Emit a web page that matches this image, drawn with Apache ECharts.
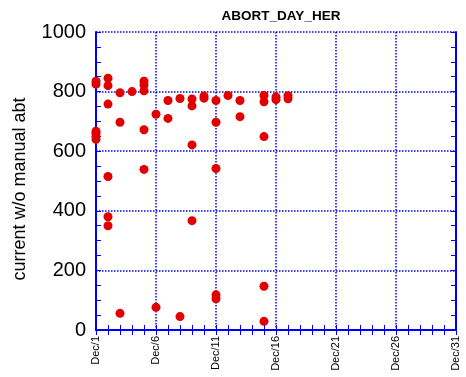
<!DOCTYPE html>
<html>
<head>
<meta charset="utf-8">
<script src="https://cdn.jsdelivr.net/npm/echarts@6/dist/echarts.min.js"></script>
<style>html,body{margin:0;padding:0;background:#fff}#c{width:466px;height:377px}</style>
</head>
<body>
<div id="c"></div>
<script>
// Day of December for each group of readings
const days = [1, 2, 3, 4, 5, 6, 7, 8, 9, 10, 11, 12, 13, 15, 16, 17];
// Readings (current w/o manual abt) per day
const values = [
  [825, 835, 640, 650, 660, 667],
  [845, 820, 758, 515, 380, 350],
  [796, 697, 56],
  [800],
  [835, 822, 803, 672, 539],
  [724, 76],
  [770, 710],
  [777, 45],
  [775, 752, 621, 367],
  [778, 785],
  [770, 697, 542, 118, 105],
  [787],
  [770, 716],
  [787, 766, 649, 147, 29],
  [773, 782],
  [776, 786]
];
const xTicks = [1, 6, 11, 16, 21, 26, 31];
const yTicks = [0, 200, 400, 600, 800, 1000];
const title = 'ABORT_DAY_HER';
const yName = 'current w/o manual abt';

const points = [];
days.forEach((d, i) => values[i].forEach(v => points.push([d, v])));

const blue = '#0000ff';
const font = '"Liberation Sans", Arial, sans-serif';
const chart = echarts.init(document.getElementById('c'));
const baseAxisX = {
  type: 'value', min: 1, max: 31, interval: 5,
  axisLine: {show: true, lineStyle: {color: blue, width: 2}},
  axisTick: {show: true, inside: true, length: 5, lineStyle: {color: blue, width: 1}},
  minorTick: {show: true, splitNumber: 5, length: 5, lineStyle: {color: blue, width: 1}}
};
const baseAxisY = {
  type: 'value', min: 0, max: 1000, interval: 200,
  axisLine: {show: true, lineStyle: {color: blue, width: 2}},
  axisTick: {show: true, inside: true, length: 5, lineStyle: {color: blue, width: 1}},
  minorTick: {show: true, splitNumber: 4, length: 5, lineStyle: {color: blue, width: 1}}
};
const gridLine = {show: true, lineStyle: {color: blue, type: [1.5, 1.5], width: 1.5}};
chart.setOption({
  animation: false,
  backgroundColor: '#fff',
  title: {
    text: title, left: 276, top: 4, textAlign: 'center',
    textStyle: {fontFamily: font, fontSize: 13.5, fontWeight: 'bold', color: '#000'}
  },
  grid: {left: 96, right: 10, top: 32, bottom: 47, containLabel: false},
  xAxis: [
    Object.assign({}, baseAxisX, {
      position: 'bottom',
      axisLabel: {
        rotate: 90, margin: 6, fontFamily: font, fontSize: 11, color: '#000',
        formatter: v => xTicks.includes(v) ? 'Dec/' + v : ''
      },
      splitLine: gridLine
    }),
    Object.assign({}, baseAxisX, {
      position: 'top', axisLabel: {show: false}, splitLine: {show: false}
    })
  ],
  yAxis: [
    Object.assign({}, baseAxisY, {
      position: 'left',
      axisLabel: {
        margin: 10, fontFamily: font, fontSize: 20, color: '#000',
        formatter: v => yTicks.includes(v) ? String(v) : ''
      },
      splitLine: gridLine
    }),
    Object.assign({}, baseAxisY, {
      position: 'right', axisLabel: {show: false}, splitLine: {show: false}
    })
  ],
  graphic: [{
    type: 'text', x: 20, y: 189, rotation: Math.PI / 2,
    style: {text: yName, fontFamily: font, fontSize: 18, fill: '#000',
      textAlign: 'center', textVerticalAlign: 'middle'}
  }],
  series: [{
    type: 'scatter', xAxisIndex: 0, yAxisIndex: 0,
    data: points, symbol: 'circle', symbolSize: 9,
    itemStyle: {color: '#e00000', opacity: 1},
    z: 5
  }]
});
</script>
</body>
</html>
